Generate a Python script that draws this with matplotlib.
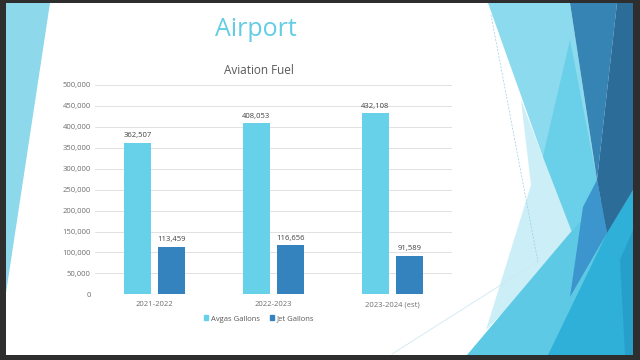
import matplotlib
matplotlib.use("Agg")
import matplotlib.pyplot as plt
from matplotlib.patches import Polygon, Patch
from matplotlib.ticker import FuncFormatter
import numpy as np

plt.rcParams['font.family'] = ['Open Sans', 'DejaVu Sans']

# chart data
categories = ['2021-2022', '2022-2023', '2023-2024 (est)']
avgas_gallons = [362507, 408053, 432108]
jet_gallons = [113459, 116656, 91589]
series_names = ['Avgas Gallons', 'Jet Gallons']
y_ticks = [0, 50000, 100000, 150000, 200000, 250000, 300000, 350000, 400000, 450000, 500000]

AVGAS = '#66D1E8'
JET = '#3483BE'


def slide_background(fig):
    # decorative slide shapes, pixel coords (top-left origin)
    bg = fig.add_axes([0, 0, 1, 1], zorder=0)
    bg.set_xlim(0, 640)
    bg.set_ylim(360, 0)
    bg.axis('off')
    shapes = [
        ([(6, 3), (633, 3), (633, 355), (6, 355)], 'white'),
        ([(6, 3), (50, 3), (6, 293)], '#8DD8EA'),
        ([(488, 3), (570, 3), (600, 200), (570, 233)], '#8CDAEE'),
        ([(570, 40), (597, 180), (607, 233), (575, 238), (537, 182)], '#6ACFE8'),
        ([(521, 100), (531, 185), (486, 330), (575, 240)], '#CBEEF7'),
        ([(467, 355), (570, 233), (633, 165), (633, 355)], '#5DC9E4'),
        ([(607, 233), (633, 190), (633, 355), (548, 355)], '#2FB0D8'),
        ([(620, 260), (633, 230), (633, 355), (625, 355)], '#279FCB'),
        ([(597, 180), (607, 233), (570, 297), (583, 207)], '#3C95CD'),
        ([(570, 3), (617, 3), (597, 180)], '#3584B4'),
        ([(617, 3), (633, 3), (633, 190), (607, 233), (597, 180)], '#2B6C99'),
    ]
    for pts, col in shapes:
        bg.add_patch(Polygon(pts, closed=True, facecolor=col, edgecolor='none'))
    bg.plot([491, 538], [15, 262], color='#9CCFE3', lw=0.5, ls=(0, (3, 2)))
    bg.plot([392, 537], [354, 262], color='#CFE8F1', lw=0.6)


def main():
    fig = plt.figure(figsize=(6.4, 3.6), dpi=100, facecolor='#2E2E2E')
    slide_background(fig)

    fig.text(255.5 / 640, 1 - 29 / 360, 'Airport', color='#62CDE4',
             fontsize=18, ha='center', va='center')
    fig.text(259 / 640, 1 - 70 / 360, 'Aviation Fuel', color='#595959',
             fontsize=8.5, ha='center', va='center')

    ax = fig.add_axes([95 / 640, 1 - 294.3 / 360, 357 / 640, 209.3 / 360], zorder=1)
    ax.set_facecolor('none')

    x = np.arange(len(categories))
    w = 0.223
    off = 0.143
    b1 = ax.bar(x - off, avgas_gallons, w, color=AVGAS, zorder=2)
    b2 = ax.bar(x + off, jet_gallons, w, color=JET, zorder=2)
    for bars in (b1, b2):
        ax.bar_label(bars, labels=[f'{v:,}' for v in bars.datavalues],
                     padding=2.5, fontsize=5.5, color='#404040')

    ax.set_xlim(-0.5, len(categories) - 0.5)
    ax.set_ylim(0, 500000)
    ax.set_yticks(y_ticks)
    ax.yaxis.set_major_formatter(FuncFormatter(lambda v, p: f'{int(v):,}'))
    ax.set_xticks(x)
    ax.set_xticklabels(categories)
    ax.tick_params(axis='both', length=0, labelsize=5.5, labelcolor='#6E6E6E')
    ax.tick_params(axis='x', pad=5)
    ax.tick_params(axis='y', pad=3)
    ax.grid(axis='y', color='#DCDCDC', lw=0.6, zorder=0)
    for s in ax.spines.values():
        s.set_visible(False)

    handles = [Patch(color=AVGAS), Patch(color=JET)]
    fig.legend(handles, series_names, loc='center', ncol=2,
               bbox_to_anchor=(259 / 640, 1 - 319 / 360), frameon=False,
               fontsize=5.5, labelcolor='#595959', handlelength=0.55,
               handleheight=0.55, handletextpad=0.3, columnspacing=1.3)

    fig.savefig('out.png', dpi=100, facecolor=fig.get_facecolor())


if __name__ == "__main__":
    main()
